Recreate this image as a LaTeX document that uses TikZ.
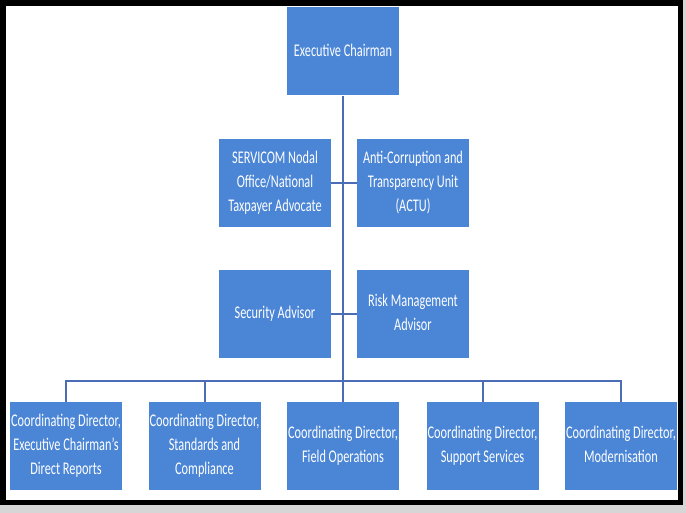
\documentclass[tikz,border=0pt]{standalone}
\usepackage{fontspec}
\setmainfont{Carlito}
\usepackage{graphicx}
\definecolor{boxblue}{HTML}{4A85D6}
\definecolor{lineblue}{HTML}{4A6DB5}
\definecolor{shadowgray}{HTML}{D6D6D6}
\newcommand{\bxt}[1]{\scalebox{1}[1.45]{\fontsize{12.3}{16.5}\selectfont\begin{tabular}{@{}c@{}}#1\end{tabular}}}
\begin{document}
\begin{tikzpicture}[x=1pt,y=-1pt,
  orgbox/.style={fill=boxblue,draw=none,minimum width=112pt,minimum height=88pt,inner sep=0pt,text=white,align=center},
  conn/.style={draw=lineblue,line width=2pt}]
\useasboundingbox (0,0) rectangle (686,513);
\fill[shadowgray] (0,0) rectangle (686,513);
\fill[black] (0,0) rectangle (683,505);
\fill[white] (6,6) rectangle (678,500);
% nodes
\node[orgbox] (ec) at (343,51.5) {\bxt{Executive Chairman}};
\node[orgbox] (sv) at (275,183) {\bxt{SERVICOM Nodal\\Office/National\\Taxpayer Advocate}};
\node[orgbox] (ac) at (413,183) {\bxt{Anti-Corruption and\\Transparency Unit\\(ACTU)}};
\node[orgbox] (sa) at (275,314) {\bxt{Security Advisor}};
\node[orgbox] (rm) at (413,314) {\bxt{Risk Management\\Advisor}};
\node[orgbox] (cd1) at (66,446) {\bxt{Coordinating Director,\\Executive Chairman's\\Direct Reports}};
\node[orgbox] (cd2) at (204.5,446) {\bxt{Coordinating Director,\\Standards and\\Compliance}};
\node[orgbox] (cd3) at (343,446) {\bxt{Coordinating Director,\\Field Operations}};
\node[orgbox] (cd4) at (482.5,446) {\bxt{Coordinating Director,\\Support Services}};
\node[orgbox] (cd5) at (621,446) {\bxt{Coordinating Director,\\Modernisation}};
\coordinate (bus) at (343,381);
% connectors
\draw[conn] (ec.south) -- (cd3.north);
\draw[conn] (sv.east) -- (ac.west);
\draw[conn] (sa.east) -- (rm.west);
\draw[conn] (cd1.north) |- (bus) -| (cd5.north);
\draw[conn] (cd2.north) -- (cd2.north |- bus);
\draw[conn] (cd4.north) -- (cd4.north |- bus);
\end{tikzpicture}
\end{document}
